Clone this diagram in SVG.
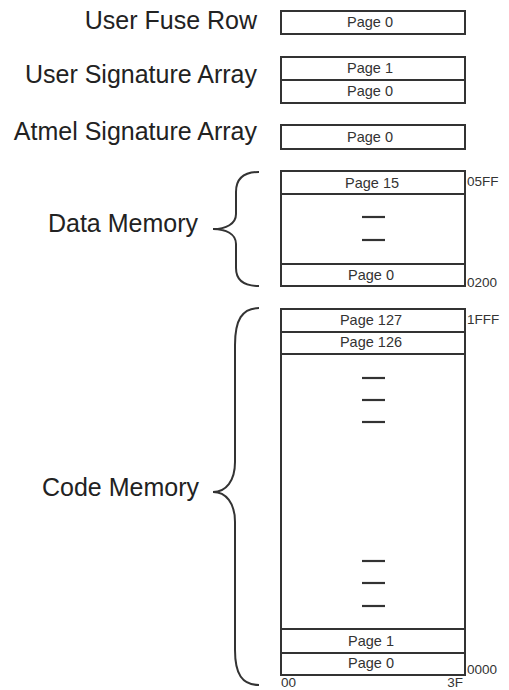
<svg xmlns="http://www.w3.org/2000/svg" width="509" height="690" viewBox="0 0 509 690">
<style>
.box{fill:#fff;stroke:#333;stroke-width:2}
.div{stroke:#333;stroke-width:2;fill:none}
.dash{stroke:#333;stroke-width:2.2}
.brace{fill:none;stroke:#333;stroke-width:2}
.lbl{font-family:"Liberation Sans",Arial,sans-serif;font-size:25px;fill:#222;text-anchor:end}
.pg{font-family:"Liberation Sans",Arial,sans-serif;font-size:14.5px;fill:#333;text-anchor:middle}
.addr{font-family:"Liberation Sans",Arial,sans-serif;font-size:13.5px;fill:#333}
</style>
<rect width="509" height="690" fill="#fff"/>
<g id="user-fuse-row">
<text class="lbl" x="257" y="29">User Fuse Row</text>
<rect class="box" x="281" y="11" width="184" height="23"/>
<text class="pg" x="370" y="27">Page 0</text>
</g>
<g id="user-signature-array">
<text class="lbl" x="257" y="83">User Signature Array</text>
<rect class="box" x="281" y="57" width="184" height="46"/>
<line class="div" x1="281" y1="80" x2="465" y2="80"/>
<text class="pg" x="370" y="73">Page 1</text>
<text class="pg" x="370" y="96">Page 0</text>
</g>
<g id="atmel-signature-array">
<text class="lbl" x="257" y="140">Atmel Signature Array</text>
<rect class="box" x="281" y="125" width="184" height="24"/>
<text class="pg" x="370" y="142">Page 0</text>
</g>
<g id="data-memory">
<text class="lbl" x="198" y="232">Data Memory</text>
<path class="brace" d="M259,172 C244,172 236,178 236,192 L236,214 C236,224 226,229 213,229 C226,229 236,234 236,244 L236,268 C236,280 244,286 259,286"/>
<rect class="box" x="281" y="171" width="184" height="115"/>
<line class="div" x1="281" y1="194" x2="465" y2="194"/>
<line class="div" x1="281" y1="264" x2="465" y2="264"/>
<text class="pg" x="372" y="188">Page 15</text>
<text class="pg" x="371" y="280">Page 0</text>
<line class="dash" x1="362" y1="217" x2="385" y2="217"/>
<line class="dash" x1="362" y1="240" x2="385" y2="240"/>
<text class="addr" x="467" y="186">05FF</text>
<text class="addr" x="467" y="287">0200</text>
</g>
<g id="code-memory">
<text class="lbl" x="199" y="496">Code Memory</text>
<path class="brace" d="M259,308 C242,308 235,320 235,345 L235,462 C235,481 226,492 213,492 C226,492 235,503 235,522 L235,650 C235,674 242,685 259,685"/>
<rect class="box" x="281" y="309" width="184" height="366"/>
<line class="div" x1="281" y1="332" x2="465" y2="332"/>
<line class="div" x1="281" y1="354" x2="465" y2="354"/>
<line class="div" x1="281" y1="629" x2="465" y2="629"/>
<line class="div" x1="281" y1="653" x2="465" y2="653"/>
<text class="pg" x="371" y="325">Page 127</text>
<text class="pg" x="371" y="347">Page 126</text>
<text class="pg" x="371" y="646">Page 1</text>
<text class="pg" x="371" y="668">Page 0</text>
<line class="dash" x1="362" y1="378" x2="385" y2="378"/>
<line class="dash" x1="362" y1="400" x2="385" y2="400"/>
<line class="dash" x1="362" y1="422" x2="385" y2="422"/>
<line class="dash" x1="362" y1="561" x2="385" y2="561"/>
<line class="dash" x1="362" y1="583" x2="385" y2="583"/>
<line class="dash" x1="362" y1="606" x2="385" y2="606"/>
<text class="addr" x="467" y="324">1FFF</text>
<text class="addr" x="467" y="674">0000</text>
<text class="addr" x="281" y="687" font-size="12.5">00</text>
<text class="addr" x="463" y="687" font-size="12.5" text-anchor="end">3F</text>
</g>
</svg>
